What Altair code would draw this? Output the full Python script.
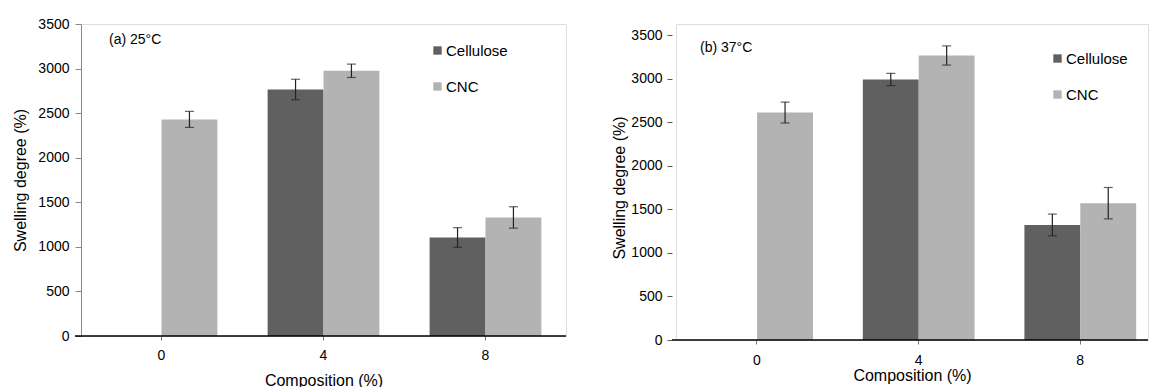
import altair as alt
import pandas as pd

compositions = ["0", "4", "8"]
materials = ["Cellulose", "CNC"]

# panel (a) 25°C
a_comp = ["0", "4", "4", "8", "8"]
a_mat = ["CNC", "Cellulose", "CNC", "Cellulose", "CNC"]
a_val = [2430, 2765, 2975, 1105, 1330]
a_err = [90, 115, 75, 110, 120]

# panel (b) 37°C
b_comp = ["0", "4", "4", "8", "8"]
b_mat = ["CNC", "Cellulose", "CNC", "Cellulose", "CNC"]
b_val = [2610, 2990, 3265, 1320, 1570]
b_err = [120, 70, 110, 125, 180]

colors = ["#606060", "#b3b3b3"]
FONT = "Liberation Sans"


def frame(comp, mat, val, err):
    df = pd.DataFrame({"comp": comp, "mat": mat, "val": val, "err": err})
    df["lo"] = df["val"] - df["err"]
    df["hi"] = df["val"] + df["err"]
    return df


def panel(df, w, pad_outer, align, h, top, label, label_xy, legend_xy, yaxis, xtitle, xlabel_pad,
          xtitle_pad, base_from):
    x = alt.X("comp:N", scale=alt.Scale(domain=compositions, paddingInner=0.31, paddingOuter=pad_outer,
                                        align=align),
              axis=alt.Axis(title=xtitle, labelAngle=0, labelFontSize=14, labelFont=FONT,
                            labelColor="black", titleFontSize=16, titleFont=FONT, titleFontWeight="normal",
                            titleColor="black", domain=False, tickColor="#777",
                            tickSize=4, labelPadding=xlabel_pad, titlePadding=xtitle_pad))
    xo = alt.XOffset("mat:N", scale=alt.Scale(domain=materials, paddingInner=0, paddingOuter=0))
    yscale = alt.Scale(domain=[0, 3500], nice=False, range=[h, top])
    y = alt.Y("val:Q", scale=yscale, axis=yaxis)
    bars = alt.Chart(df).mark_bar().encode(
        x=x, xOffset=xo, y=y,
        color=alt.Color("mat:N", scale=alt.Scale(domain=materials, range=colors),
                        legend=alt.Legend(title=None, orient="none", legendX=legend_xy[0], legendY=legend_xy[1],
                                          symbolType="square", symbolSize=70, symbolStrokeWidth=0,
                                          labelFontSize=15, labelFont=FONT, labelColor="black",
                                          rowPadding=20, symbolOffset=0, labelOffset=1)))
    rules = alt.Chart(df).mark_rule(color="#222", strokeWidth=1.2).encode(
        x=x, xOffset=xo, y="lo:Q", y2="hi:Q")
    caps_lo = alt.Chart(df).mark_tick(color="#222", size=9, thickness=1.2, orient="horizontal").encode(
        x=x, xOffset=xo, y="lo:Q")
    caps_hi = alt.Chart(df).mark_tick(color="#222", size=9, thickness=1.2, orient="horizontal").encode(
        x=x, xOffset=xo, y="hi:Q")
    baseline = alt.Chart(pd.DataFrame({"v": [0]})).mark_rule(color="black", strokeWidth=1.5).encode(
        x=alt.value(base_from), x2=alt.value(w), y=alt.Y("v:Q", scale=yscale))
    txt = alt.Chart(pd.DataFrame({"t": [label]})).mark_text(
        align="left", baseline="middle", fontSize=14, font=FONT, color="black").encode(
        text="t:N", x=alt.value(label_xy[0]), y=alt.value(label_xy[1]))
    return alt.layer(bars, rules, caps_lo, caps_hi, baseline, txt).properties(width=w, height=h)


def yaxis(domain, tick_color, tick_size, offset, label_pad, title_pad):
    return alt.Axis(title="Swelling degree (%)", values=list(range(0, 3501, 500)), format="d", grid=False,
                    labelFontSize=14, labelFont=FONT, labelColor="black", titleFontSize=16, titleFont=FONT,
                    titleFontWeight="normal", titleColor="black", domain=domain, domainColor="#888",
                    tickColor=tick_color, tickSize=tick_size, offset=offset, labelPadding=label_pad,
                    titlePadding=title_pad)


left = panel(frame(a_comp, a_mat, a_val, a_err), 485, 0.152, 0.5, 312, 0, "(a) 25°C", (28, 16), (349, 19),
             yaxis(True, "#888", 6, 0, 6, 9), "Composition  (%)", 8, 10, -6)
right = panel(frame(b_comp, b_mat, b_val, b_err), 472, 0.1155, 0.676, 316, 11, "(b) 37°C", (24, 24), (374, 27),
              yaxis(False, "#555", 5, 4, 5, 3), "Composition (%)", 9, 0, -4)

chart = alt.hconcat(left, right, spacing=43).resolve_scale(color="independent").properties(
    padding={"left": 12, "top": 16, "right": 0, "bottom": 0}
).configure_view(strokeWidth=0).configure(background="white")

chart.save("out.html", embed_options={"renderer": "svg", "actions": False})
